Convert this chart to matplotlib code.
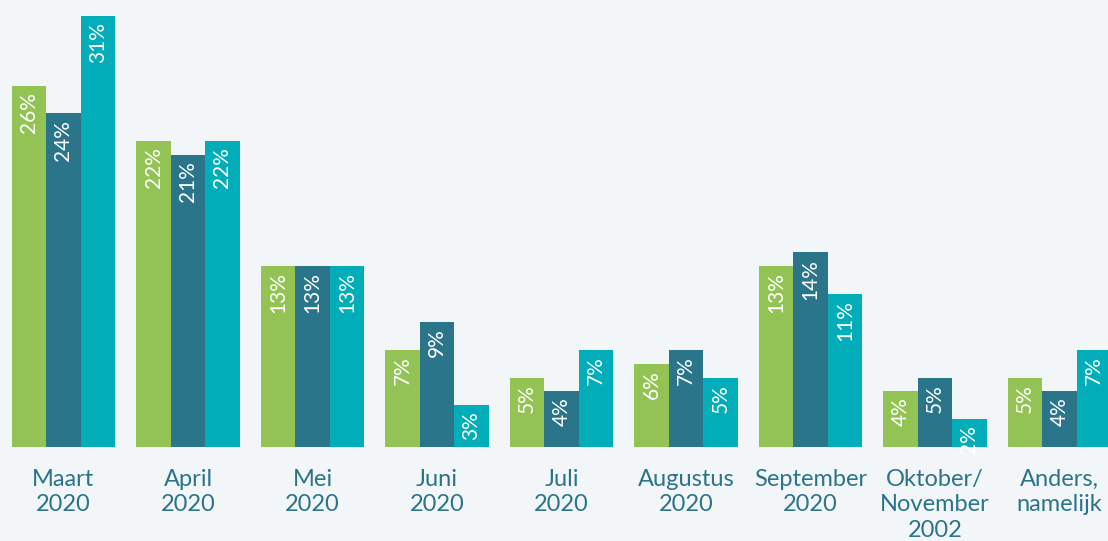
import matplotlib
matplotlib.use("Agg")
import matplotlib.pyplot as plt
import numpy as np

categories = ["Maart\n2020", "April\n2020", "Mei\n2020", "Juni\n2020", "Juli\n2020",
              "Augustus\n2020", "September\n2020", "Oktober/\nNovember\n2002", "Anders,\nnamelijk"]
series_a = [26, 22, 13, 7, 5, 6, 13, 4, 5]
series_b = [24, 21, 13, 9, 4, 7, 14, 5, 4]
series_c = [31, 22, 13, 3, 7, 5, 11, 2, 7]

colors = ["#93c355", "#2a7589", "#00adb9"]
bg = "#f2f6f9"
text_color = "#2b7489"

fig = plt.figure(figsize=(11.08, 5.41), dpi=100, facecolor=bg)
ax = fig.add_axes([0, 94/541, 1, 447/541])
ax.set_facecolor(bg)

x = np.arange(len(categories))
w = 0.277
for k, (vals, col) in enumerate(zip([series_a, series_b, series_c], colors)):
    xs = x + (k - 1) * w
    ax.bar(xs, vals, width=w, color=col, linewidth=0)
    for xi, v in zip(xs, vals):
        ax.text(xi, v - 0.45, f"{v}%", rotation=90, ha="center", va="top",
                color="white", fontsize=15, family=["Lato", "DejaVu Sans"])

ax.set_xlim(-0.51, 8.39)
ax.set_ylim(0, 32.16)
for s in ax.spines.values():
    s.set_visible(False)
ax.set_yticks([])
ax.set_xticks([])
for xi, lab in zip(x, categories):
    ax.text(xi, -1.55, lab, ha="center", va="top", color=text_color, fontsize=17,
            family=["Lato", "DejaVu Sans"], linespacing=1.27)

fig.savefig("out.png", dpi=100, facecolor=bg)
